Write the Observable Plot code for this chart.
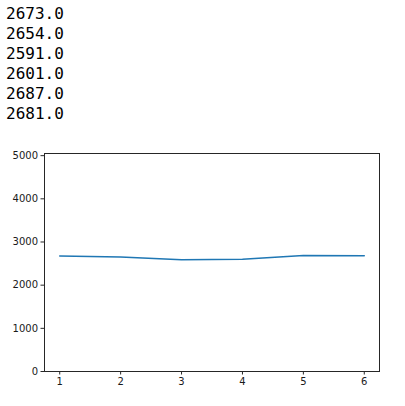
<!DOCTYPE html>
<html>
<head>
<meta charset="utf-8">
<script src="https://cdn.jsdelivr.net/npm/d3@7"></script>
<script src="https://cdn.jsdelivr.net/npm/@observablehq/plot@0.6"></script>
<style>
  html, body { margin: 0; padding: 0; background: #fff; width: 405px; height: 406px; overflow: hidden; }
  #out { position: absolute; left: 6px; top: 4px; font-family: "DejaVu Sans Mono", monospace; font-size: 16px; line-height: 20px; color: #000; white-space: pre; margin: 0; }
  #chart { position: absolute; left: 0; top: 130px; }
</style>
</head>
<body>
<pre id="out"></pre>
<div id="chart"></div>
<script>
const steps = [1, 2, 3, 4, 5, 6];
const values = [2673, 2654, 2591, 2601, 2687, 2681];
const xTicks = [1, 2, 3, 4, 5, 6];
const yTicks = [0, 1000, 2000, 3000, 4000, 5000];

document.getElementById("out").textContent = values.map(v => v.toFixed(1)).join("\n");

const data = steps.map((s, i) => ({x: s, y: values[i]}));

const chart = Plot.plot({
  width: 405,
  height: 276,
  marginTop: 23,
  marginBottom: 35,
  marginLeft: 44,
  marginRight: 26,
  style: {fontFamily: "DejaVu Sans, sans-serif", fontSize: "10px", color: "#1a1a1a", background: "#fff"},
  x: {domain: [0.75, 6.25]},
  y: {domain: [0, 5050]},
  marks: [
    Plot.axisX({ticks: xTicks, tickSize: 3.5, tickPadding: 3, tickFormat: d3.format("d"), label: null, stroke: "#262626", fontSize: 10}),
    Plot.axisY({ticks: yTicks, tickSize: 3.5, tickPadding: 3, tickFormat: d3.format("d"), label: null, stroke: "#262626", fontSize: 10}),
    Plot.line(data, {x: "x", y: "y", stroke: "#1f77b4", strokeWidth: 1.5}),
    Plot.frame({stroke: "#262626", strokeWidth: 1})
  ]
});
document.getElementById("chart").appendChild(chart);
</script>
</body>
</html>
